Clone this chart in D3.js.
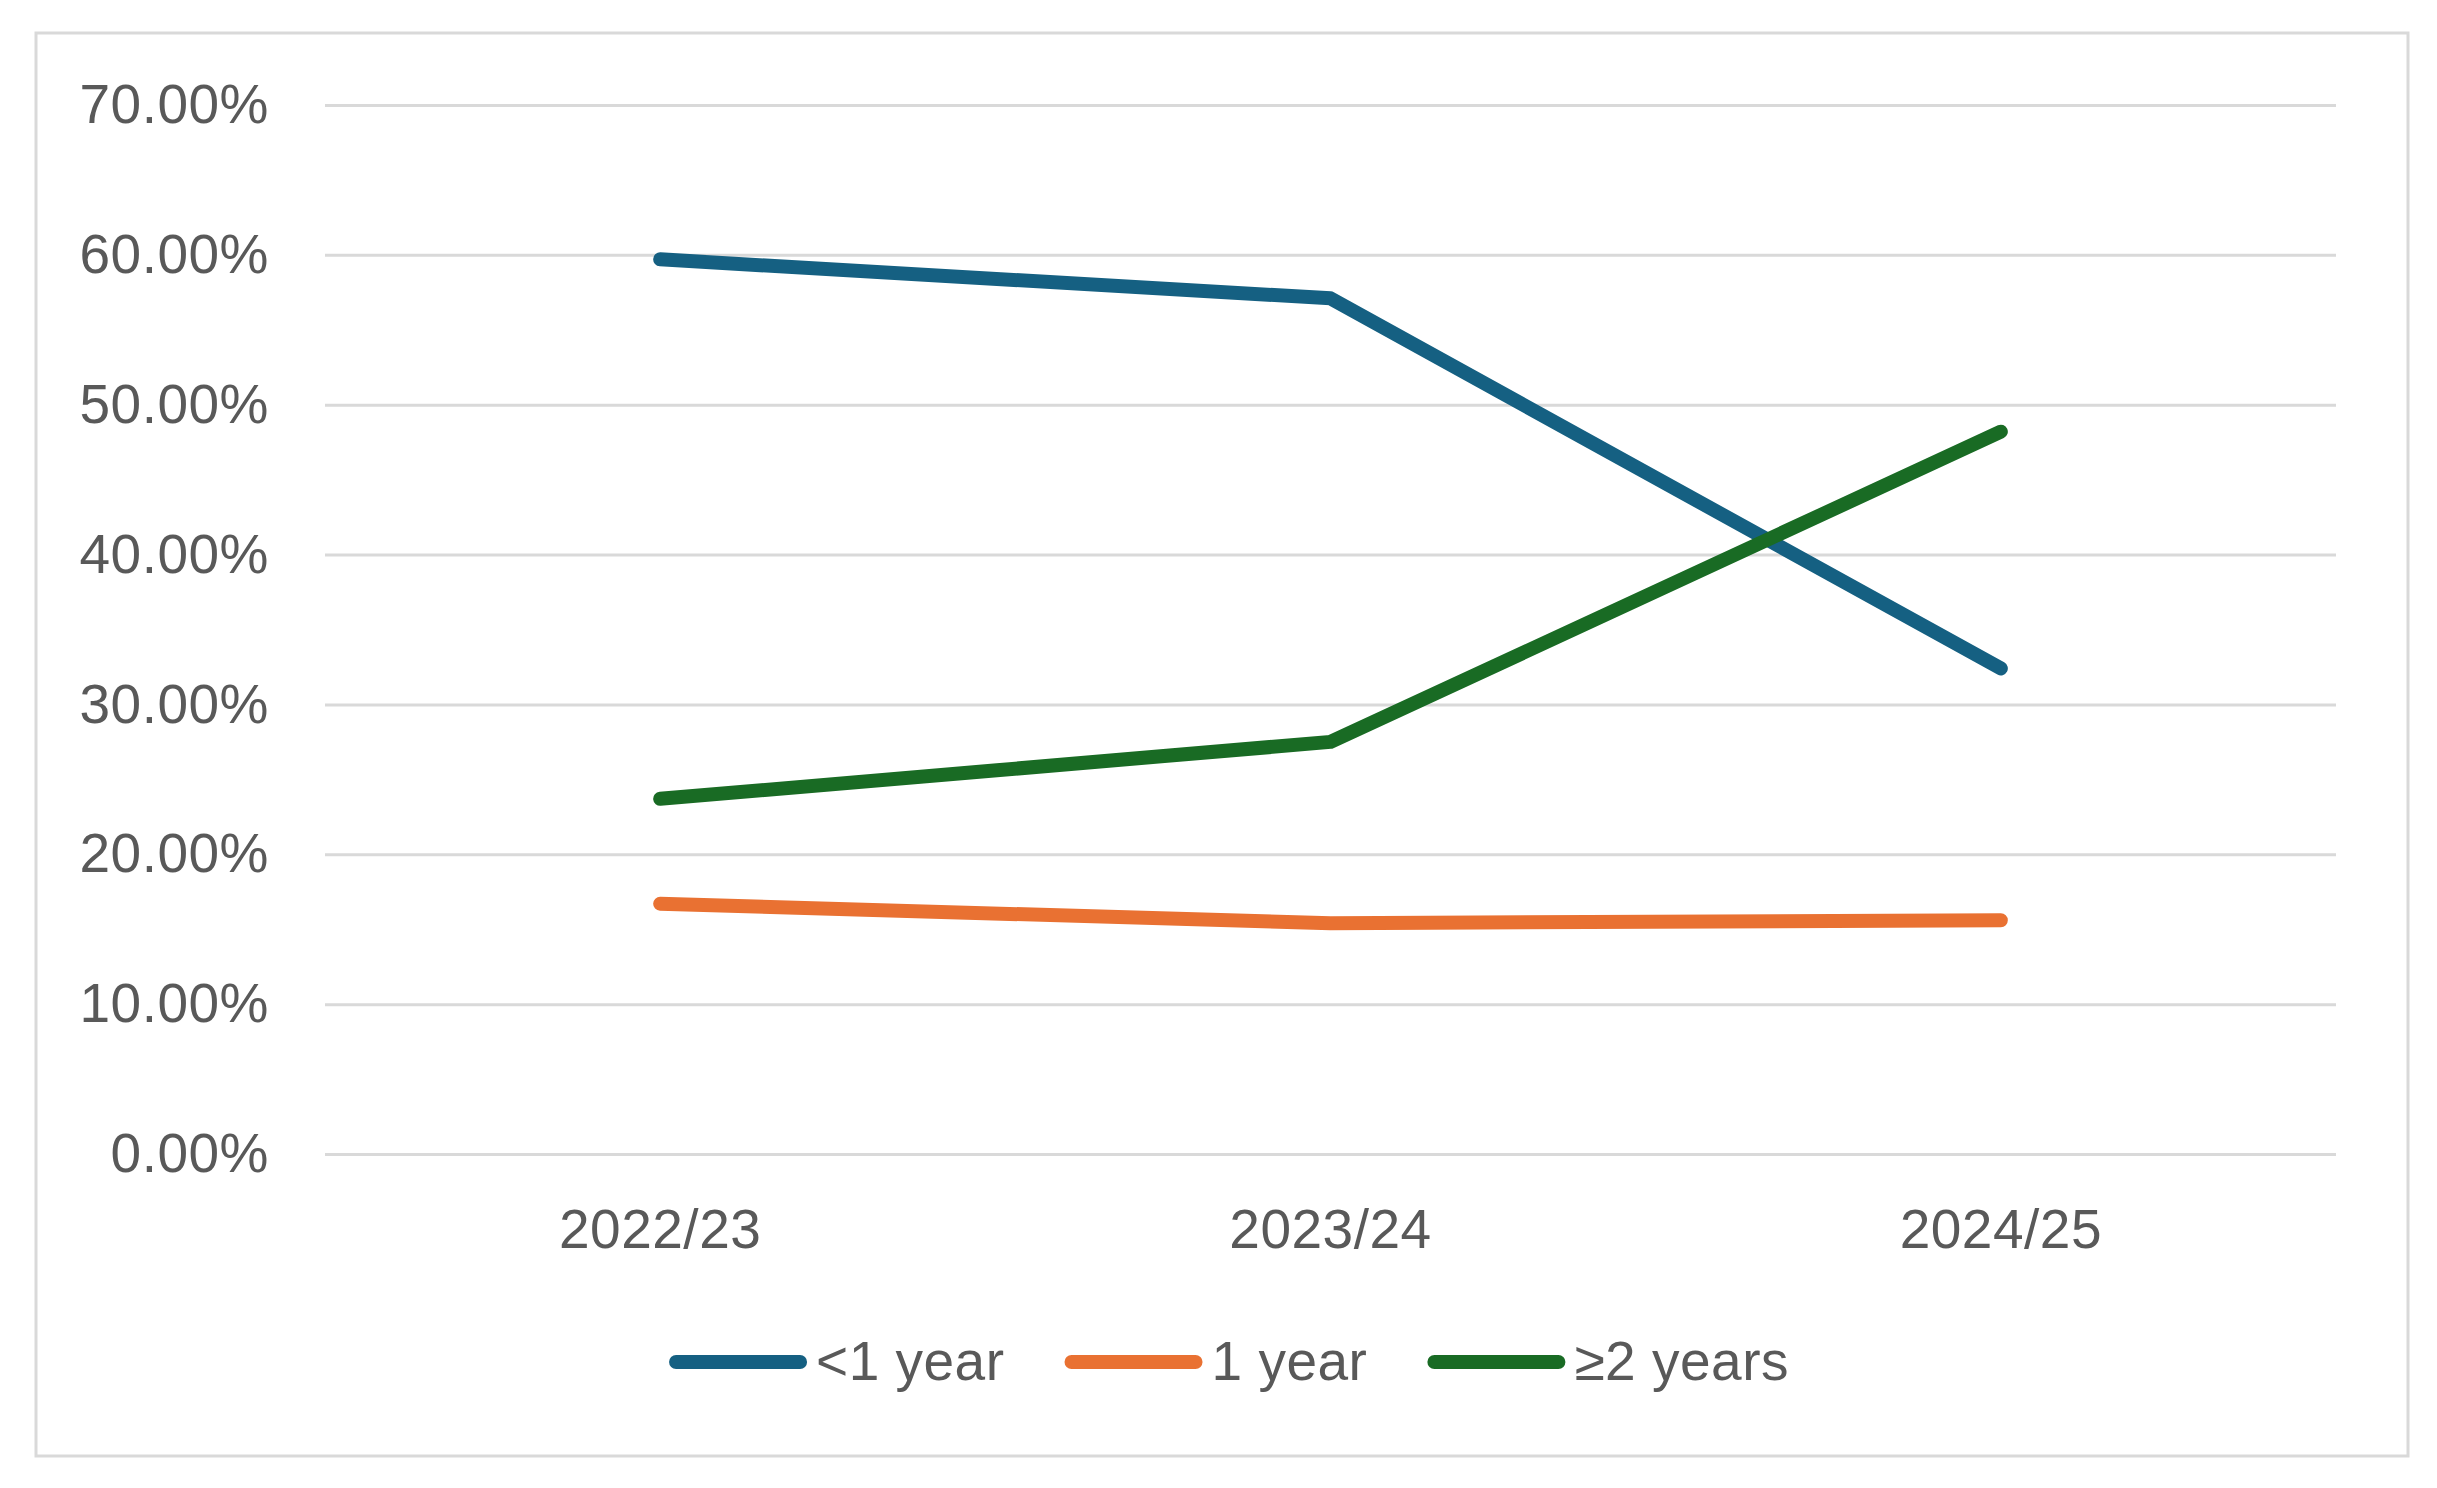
<!DOCTYPE html>
<html>
<head>
<meta charset="utf-8">
<script src="https://cdn.jsdelivr.net/npm/d3@7"></script>
<style>
  html, body { margin: 0; padding: 0; background: #ffffff; }
  svg { display: block; }
  text { font-family: "Liberation Sans", Arial, sans-serif; fill: #595959; }
</style>
</head>
<body>
<svg id="chart" width="2437" height="1488"></svg>
<script>
const categories = ["2022/23", "2023/24", "2024/25"];
const seriesNames = ["<1 year", "1 year", "\u22652 years"];
const lessThanOneYear = [0.597, 0.571, 0.324];
const oneYear = [0.167, 0.154, 0.156];
const twoPlusYears = [0.237, 0.275, 0.482];
const yTicks = [0, 0.1, 0.2, 0.3, 0.4, 0.5, 0.6, 0.7];
const colors = ["#156082", "#E97132", "#196B24"];

const series = [
  { name: seriesNames[0], values: lessThanOneYear, color: colors[0] },
  { name: seriesNames[1], values: oneYear, color: colors[1] },
  { name: seriesNames[2], values: twoPlusYears, color: colors[2] }
];

const svg = d3.select("#chart");
const W = 2437, H = 1488;
const plot = { left: 325, right: 2336, top: 105, bottom: 1154 };

svg.append("rect").attr("width", W).attr("height", H).attr("fill", "#ffffff");
// chart frame
svg.append("rect")
  .attr("x", 36).attr("y", 33)
  .attr("width", 2408 - 36).attr("height", 1456 - 33)
  .attr("fill", "#ffffff").attr("stroke", "#d9d9d9").attr("stroke-width", 3);

const x = d3.scaleBand().domain(categories).range([plot.left, plot.right]).padding(0);
const y = d3.scaleLinear().domain([0, 0.7]).range([plot.bottom, plot.top]);

const fontSize = 55;
const ls = 0.5;

// gridlines + y labels via axis
const yAxis = d3.axisLeft(y)
  .tickValues(yTicks)
  .tickFormat(d => d3.format(".2%")(d))
  .tickSize(-(plot.right - plot.left))
  .tickPadding(56);
const gy = svg.append("g").attr("transform", `translate(${plot.left},0)`).call(yAxis);
gy.select(".domain").remove();
gy.selectAll(".tick line").attr("stroke", "#d9d9d9").attr("stroke-width", 3);
gy.selectAll(".tick text")
  .attr("font-size", fontSize).attr("fill", "#595959")
  .attr("letter-spacing", ls)
  .style("font-family", '"Liberation Sans", Arial, sans-serif');

// x labels via axis
const xAxis = d3.axisBottom(x).tickSize(0).tickPadding(0);
const gx = svg.append("g").attr("transform", `translate(0,${plot.bottom})`).call(xAxis);
gx.select(".domain").remove();
gx.selectAll(".tick text")
  .attr("dy", null).attr("y", 94)
  .attr("font-size", fontSize).attr("fill", "#595959")
  .attr("letter-spacing", ls)
  .style("font-family", '"Liberation Sans", Arial, sans-serif');

// lines
const line = d3.line()
  .x((d, i) => x(categories[i]) + x.bandwidth() / 2)
  .y(d => y(d));

svg.append("g").selectAll("path")
  .data(series)
  .join("path")
  .attr("d", s => line(s.values))
  .attr("fill", "none")
  .attr("stroke", s => s.color)
  .attr("stroke-width", 14)
  .attr("stroke-linecap", "round")
  .attr("stroke-linejoin", "round");

// legend
const legendY = 1362;
const cap = 7, lineLen = 124, textGap = 9, itemGap = 60;
const lg = svg.append("g");
let cx = 0;
series.forEach(s => {
  const g = lg.append("g").attr("transform", `translate(${cx},0)`);
  g.append("line")
    .attr("x1", cap).attr("x2", cap + lineLen)
    .attr("y1", legendY).attr("y2", legendY)
    .attr("stroke", s.color).attr("stroke-width", 14)
    .attr("stroke-linecap", "round");
  const t = g.append("text")
    .attr("x", 2 * cap + lineLen + textGap).attr("y", legendY + 18)
    .attr("font-size", fontSize).attr("letter-spacing", ls)
    .text(s.name);
  cx += 2 * cap + lineLen + textGap + t.node().getComputedTextLength() + itemGap;
});
const totalW = cx - itemGap;
lg.attr("transform", `translate(${1229 - totalW / 2},0)`);
</script>
</body>
</html>
